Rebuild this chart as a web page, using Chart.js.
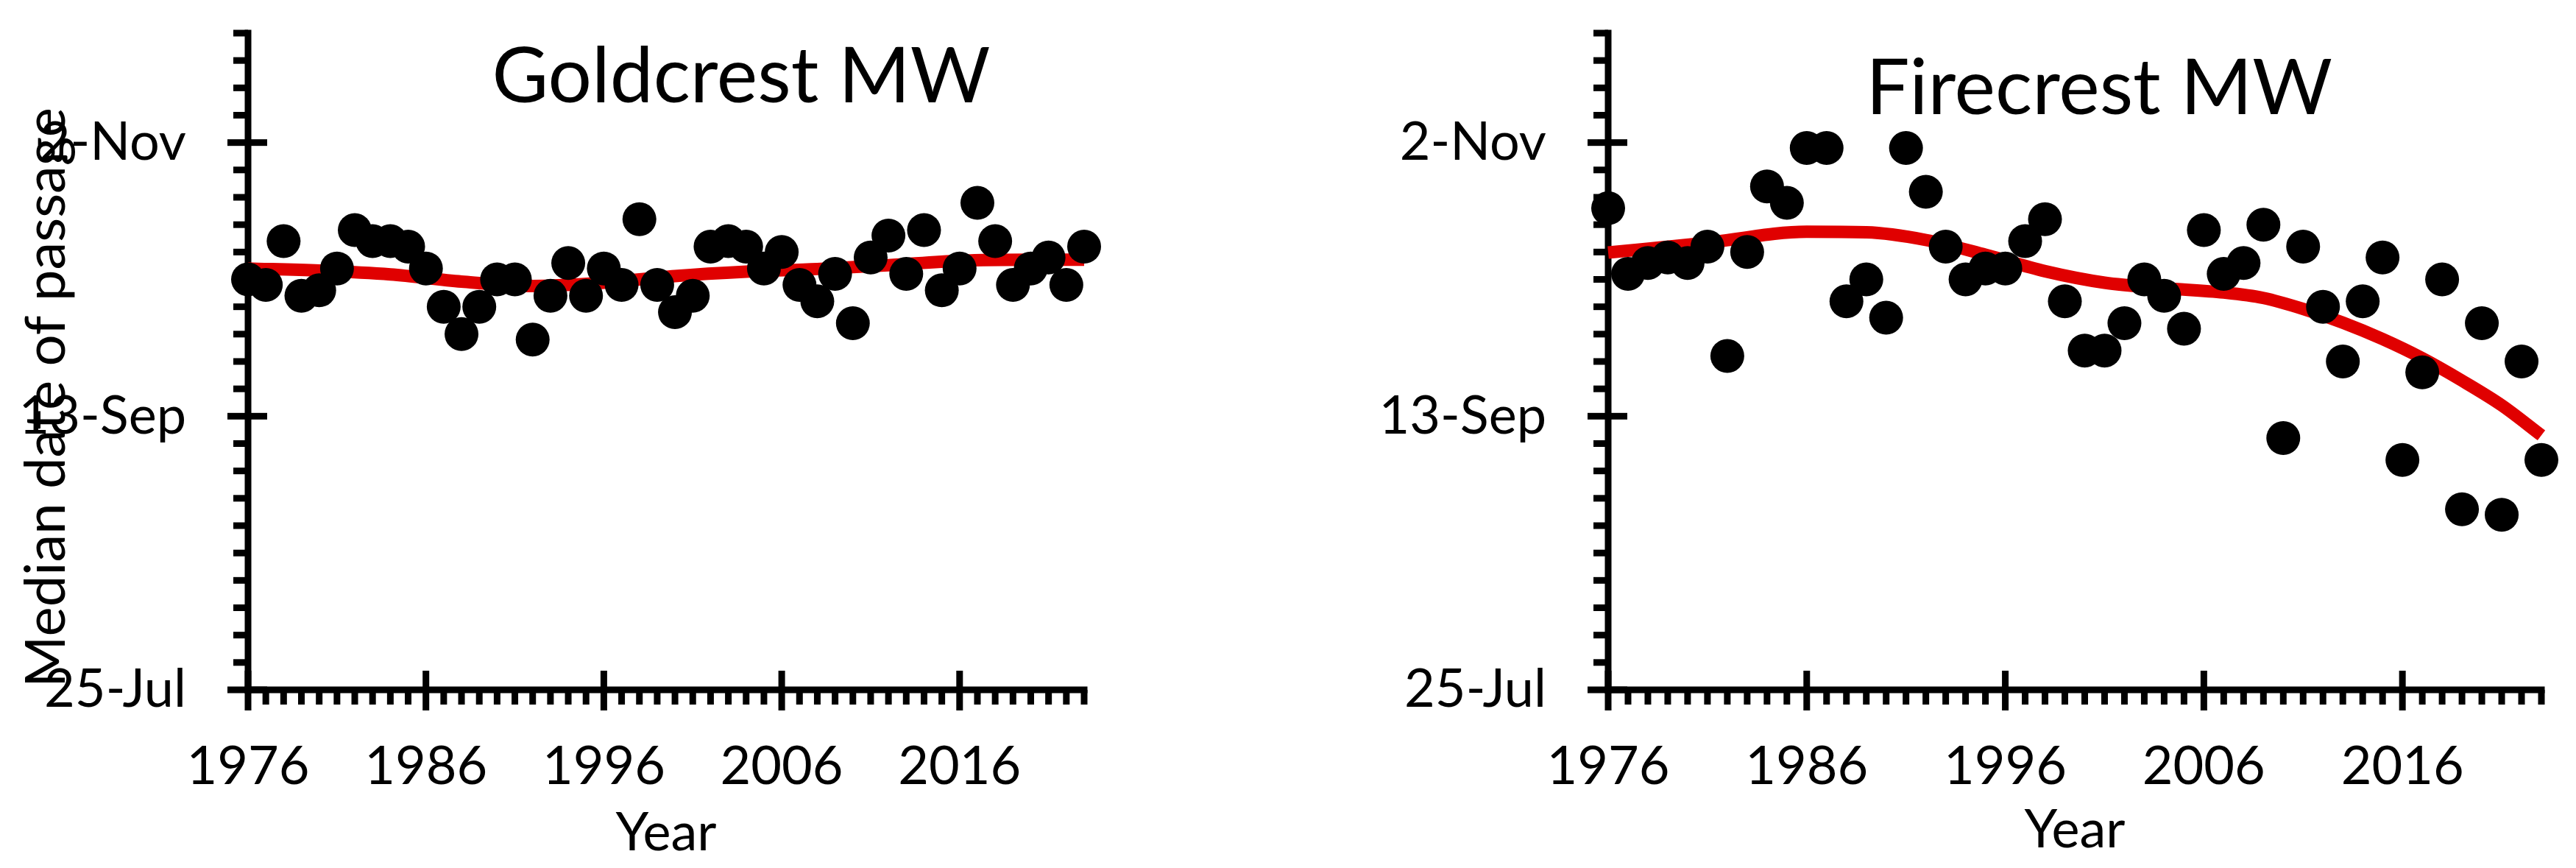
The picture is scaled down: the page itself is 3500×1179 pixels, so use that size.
<!DOCTYPE html>
<html>
<head>
<meta charset="utf-8">
<script src="https://cdn.jsdelivr.net/npm/chart.js@4.4.0/dist/chart.umd.min.js"></script>
<style>
  html, body { margin: 0; padding: 0; background: #ffffff; }
  #wrap { position: relative; width: 3500px; height: 1179px; overflow: hidden; background: #fff; }
  canvas { position: absolute; top: 0; }
</style>
</head>
<body>
<div id="wrap">
  <canvas id="gold" width="1750" height="1179" style="left:0px"></canvas>
  <canvas id="fire" width="1750" height="1179" style="left:1750px"></canvas>
</div>
<script>
// ---- data (y values are day-of-year of the median passage date) ----
const years = [1976,1977,1978,1979,1980,1981,1982,1983,1984,1985,1986,1987,1988,1989,1990,1991,
               1992,1993,1994,1995,1996,1997,1998,1999,2000,2001,2002,2003,2004,2005,2006,2007,
               2008,2009,2010,2011,2012,2013,2014,2015,2016,2017,2018,2019,2020,2021,2022,2023];

const goldcrestDay = [281,280,288,278,279,283,290,288,288,287,283,276,271,276,281,281,
                      270,278,284,278,283,280,292,280,275,278,287,288,287,283,286,280,
                      277,282,273,285,289,282,290,279,283,295,288,280,283,285,280,287];

const firecrestDay = [294,282,284,285,284,287,267,286,298,295,305,305,277,281,274,305,
                      297,287,281,283,283,288,292,277,268,268,273,281,278,272,290,282,
                      284,291,252,287,276,266,277,285,248,264,281,239,273,238,266,248];

const goldcrestTrendYears = [1976,1980,1984,1988,1992,1996,2000,2004,2008,2012,2016,2020,2023];
const goldcrestTrendDay   = [283.0,282.6,281.9,280.6,279.8,280.4,281.6,282.4,282.9,283.6,284.4,284.6,284.6];

const firecrestTrendYears = [1976,1981,1986,1989,1992,1995,1998,2001,2004,2007,2009,2011,2013,2015,2017,2019,2021,2023];
const firecrestTrendDay   = [285.9,287.7,289.7,289.6,288.2,285.5,282.5,280.4,279.4,278.6,277.6,275.6,273.1,270.1,266.6,262.5,258.0,252.5];

const yTickDays   = [206, 256, 306];
const yTickLabels = ['25-Jul', '13-Sep', '2-Nov'];
const xLabelYears = [1976, 1986, 1996, 2006, 2016];

// ---- plugins ----
const excelAxes = {
  id: 'excelAxes',
  beforeDatasetsDraw(chart) {
    const { ctx, scales: { x, y } } = chart;
    const LW = 9, MINOR = 20, MAJ_OUT = 28, MAJ_IN = 26;
    const ax = x.getPixelForValue(x.min);
    const ay = y.getPixelForValue(y.min);
    const yTop = y.getPixelForValue(y.max);
    const xRight = x.getPixelForValue(x.max);
    ctx.save();
    ctx.fillStyle = '#000';
    ctx.fillRect(ax - LW / 2, yTop - LW / 2, LW, ay - yTop + LW);
    ctx.fillRect(ax - LW / 2, ay - LW / 2, xRight - ax + LW, LW);
    y.ticks.forEach(t => {
      const p = y.getPixelForValue(t.value);
      if (yTickDays.includes(t.value)) ctx.fillRect(ax - MAJ_OUT, p - LW / 2, MAJ_OUT + MAJ_IN, LW);
      else ctx.fillRect(ax - MINOR, p - LW / 2, MINOR, LW);
    });
    x.ticks.forEach(t => {
      const p = x.getPixelForValue(t.value);
      if (xLabelYears.includes(t.value)) ctx.fillRect(p - LW / 2, ay - MAJ_IN, LW, MAJ_OUT + MAJ_IN);
      else ctx.fillRect(p - LW / 2, ay, LW, MINOR);
    });
    ctx.restore();
  }
};

const panelText = {
  id: 'panelText',
  afterDraw(chart, args, opts) {
    const ctx = chart.ctx;
    (opts.items || []).forEach(it => {
      ctx.save();
      ctx.font = it.size + 'px Lato';
      ctx.fillStyle = '#000';
      ctx.textAlign = 'center';
      ctx.textBaseline = 'alphabetic';
      ctx.translate(it.x, it.y);
      if (it.rotate) ctx.rotate(it.rotate);
      ctx.fillText(it.text, 0, 0);
      ctx.restore();
    });
  }
};

function makeChart(canvasId, dayValues, trendYears, trendDays, cfg) {
  const pts = years.map((yr, i) => ({ x: yr, y: dayValues[i] }));
  const trend = trendYears.map((yr, i) => ({ x: yr, y: trendDays[i] }));
  return new Chart(document.getElementById(canvasId), {
    type: 'scatter',
    data: {
      datasets: [
        {
          data: pts,
          pointRadius: 23,
          pointHoverRadius: 23,
          pointBackgroundColor: '#000',
          pointBorderWidth: 0,
          borderWidth: 0,
          clip: false
        },
        {
          data: trend,
          showLine: true,
          pointRadius: 0,
          borderColor: 'rgb(224,0,0)',
          borderWidth: 17,
          cubicInterpolationMode: 'monotone',
          clip: false
        }
      ]
    },
    options: {
      responsive: false,
      devicePixelRatio: 1,
      animation: false,
      events: [],
      layout: { padding: { left: 0, right: cfg.padRight, top: 45, bottom: 0 } },
      plugins: {
        legend: { display: false },
        tooltip: { enabled: false },
        panelText: { items: cfg.texts }
      },
      scales: {
        x: {
          type: 'linear',
          min: 1976,
          max: 2023,
          grid: { display: false, drawTicks: true, tickLength: 62 },
          border: { display: false },
          ticks: {
            stepSize: 1,
            autoSkip: false,
            maxRotation: 0,
            padding: 0,
            color: '#000',
            font: { family: 'Lato', size: 72 },
            callback: v => xLabelYears.includes(v) ? String(v) : ''
          },
          title: {
            display: true,
            text: 'Year',
            color: '#000',
            font: { family: 'Lato', size: 72 },
            padding: { top: 0, bottom: cfg.yearPad }
          },
          afterFit: s => { s.height = 242; }
        },
        y: {
          type: 'linear',
          min: 206,
          max: 326,
          grid: { display: false, drawTicks: true, tickLength: 84 },
          border: { display: false },
          ticks: {
            stepSize: 5,
            autoSkip: false,
            padding: 0,
            color: '#000',
            font: { family: 'Lato', size: 72 },
            callback: v => {
              const k = yTickDays.indexOf(v);
              return k >= 0 ? yTickLabels[k] : '';
            }
          },
          afterFit: s => { s.width = cfg.yWidth; }
        }
      }
    },
    plugins: [excelAxes, panelText]
  });
}

makeChart('gold', goldcrestDay, goldcrestTrendYears, goldcrestTrendDay, {
  yWidth: 337,
  padRight: 277,
  yearPad: 4,
  texts: [
    { text: 'Goldcrest MW', x: 1007, y: 139, size: 105 },
    { text: 'Median date of passage', x: 88, y: 540, size: 76, rotate: -Math.PI / 2 }
  ]
});

makeChart('fire', firecrestDay, firecrestTrendYears, firecrestTrendDay, {
  yWidth: 435,
  padRight: 47,
  yearPad: 8,
  texts: [
    { text: 'Firecrest MW', x: 1102, y: 155, size: 105 }
  ]
});
</script>
</body>
</html>
